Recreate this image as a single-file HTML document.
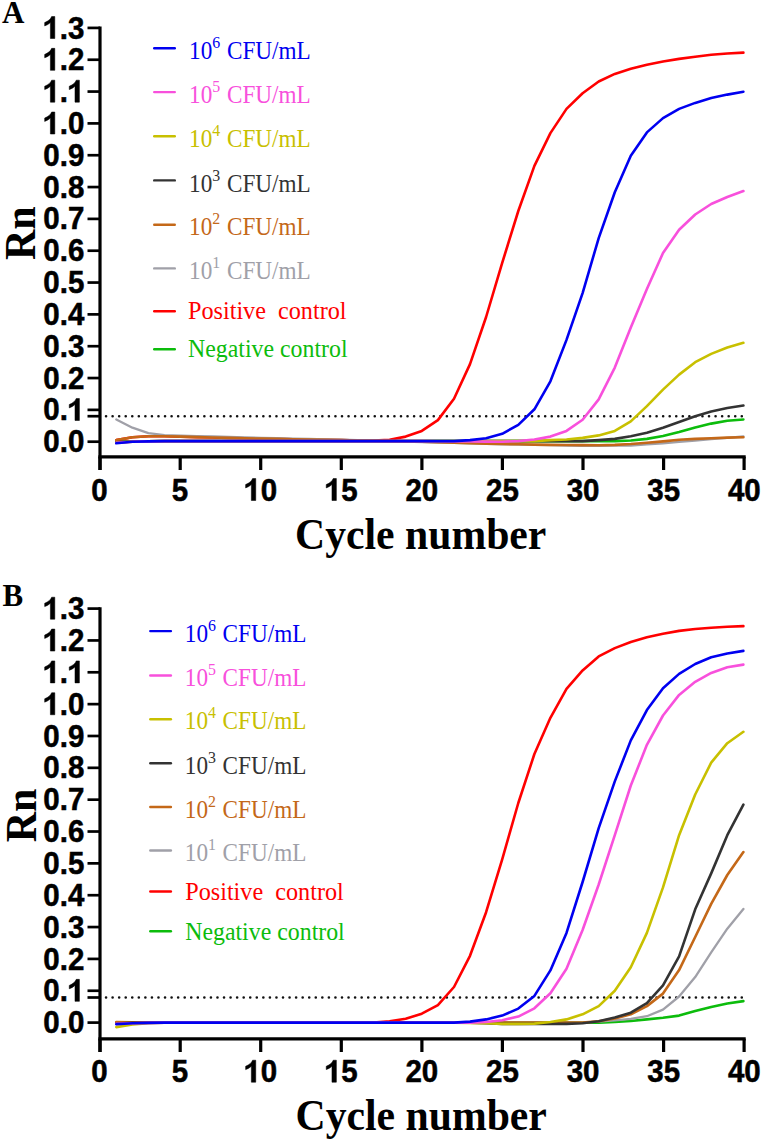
<!DOCTYPE html>
<html><head><meta charset="utf-8"><style>
html,body{margin:0;padding:0;background:#fff;width:762px;height:1141px;overflow:hidden}
svg{display:block}
.tk{font-family:"Liberation Sans",sans-serif;font-weight:bold;font-size:29.5px;fill:#000;stroke:#000;stroke-width:0.5px}
.ttl{font-family:"Liberation Serif",serif;font-weight:bold;font-size:41.7px;fill:#000}
.ttl2{font-family:"Liberation Serif",serif;font-weight:bold;font-size:42px;fill:#000}
.let{font-family:"Liberation Serif",serif;font-weight:bold;font-size:31px;fill:#000}
.lg{font-family:"Liberation Serif",serif;font-size:23.2px}
.lg2{font-family:"Liberation Serif",serif;font-size:24.2px}
.sup{font-size:15.9px}
</style></head><body>
<svg width="762" height="1141" viewBox="0 0 762 1141">
<line x1="87.5" y1="416.20" x2="100" y2="416.20" stroke="#000" stroke-width="2.7"/>
<line x1="106.05" y1="416.20" x2="742.5" y2="416.20" stroke="#111" stroke-width="2.6" stroke-linecap="round" stroke-dasharray="0.01 6.544"/>
<polyline points="116.3,442.1 132.4,441.4 148.4,441.3 164.5,441.1 180.6,441.1 196.7,441.1 212.8,441.1 228.8,441.1 244.9,441.1 261.0,441.1 277.1,441.1 293.2,441.1 309.2,441.1 325.3,441.1 341.4,441.1 357.5,441.1 373.6,441.1 389.6,441.1 405.7,441.1 421.8,441.1 437.9,441.1 454.0,441.1 470.0,441.1 486.1,441.1 502.2,441.1 518.3,441.1 534.4,441.1 550.4,441.1 566.5,441.1 582.6,441.1 598.7,441.1 614.8,441.1 630.8,440.5 646.9,438.9 663.0,436.0 679.1,431.9 695.2,427.4 711.2,423.6 727.3,420.7 743.4,419.5" fill="none" stroke="#0cbc0c" stroke-width="2.6" stroke-linejoin="round" stroke-linecap="round"/>
<polyline points="116.3,440.1 132.4,437.3 148.4,436.3 164.5,436.3 180.6,436.6 196.7,437.1 212.8,437.5 228.8,437.9 244.9,438.2 261.0,438.6 277.1,438.9 293.2,439.2 309.2,439.5 325.3,439.8 341.4,440.1 357.5,440.5 373.6,440.5 389.6,439.8 405.7,436.6 421.8,430.9 437.9,420.1 454.0,398.8 470.0,364.1 486.1,317.0 502.2,262.9 518.3,211.0 534.4,165.9 550.4,133.1 566.5,108.9 582.6,93.3 598.7,81.5 614.8,73.9 630.8,68.8 646.9,64.7 663.0,61.5 679.1,58.9 695.2,56.7 711.2,54.8 727.3,53.5 743.4,52.6" fill="none" stroke="#ff0000" stroke-width="2.6" stroke-linejoin="round" stroke-linecap="round"/>
<polyline points="116.3,419.5 132.4,427.7 148.4,433.1 164.5,435.1 180.6,435.7 196.7,436.1 212.8,436.5 228.8,437.0 244.9,437.4 261.0,437.8 277.1,438.2 293.2,438.6 309.2,439.0 325.3,439.3 341.4,439.7 357.5,440.1 373.6,440.6 389.6,441.1 405.7,441.6 421.8,442.1 437.9,442.5 454.0,442.9 470.0,443.4 486.1,443.8 502.2,444.3 518.3,444.6 534.4,444.9 550.4,445.2 566.5,445.6 582.6,445.9 598.7,445.8 614.8,445.7 630.8,445.6 646.9,444.4 663.0,443.3 679.1,441.9 695.2,440.5 711.2,439.2 727.3,437.9 743.4,436.3" fill="none" stroke="#a0a0a8" stroke-width="2.3" stroke-linejoin="round" stroke-linecap="round"/>
<polyline points="116.3,440.1 132.4,437.3 148.4,436.3 164.5,436.3 180.6,436.6 196.7,437.1 212.8,437.5 228.8,437.9 244.9,438.2 261.0,438.6 277.1,438.9 293.2,439.2 309.2,439.5 325.3,439.8 341.4,440.1 357.5,440.5 373.6,440.8 389.6,441.1 405.7,441.4 421.8,441.7 437.9,442.2 454.0,442.7 470.0,443.2 486.1,443.6 502.2,444.0 518.3,444.3 534.4,444.6 550.4,444.9 566.5,445.0 582.6,445.1 598.7,445.2 614.8,444.9 630.8,444.0 646.9,442.7 663.0,441.4 679.1,439.8 695.2,438.9 711.2,438.2 727.3,437.6 743.4,437.3" fill="none" stroke="#c46818" stroke-width="2.6" stroke-linejoin="round" stroke-linecap="round"/>
<polyline points="116.3,442.4 132.4,441.4 148.4,441.3 164.5,441.1 180.6,441.1 196.7,441.1 212.8,441.1 228.8,441.1 244.9,441.1 261.0,441.1 277.1,441.1 293.2,441.1 309.2,441.1 325.3,441.1 341.4,441.1 357.5,441.1 373.6,441.1 389.6,441.1 405.7,441.1 421.8,441.1 437.9,441.1 454.0,441.1 470.0,441.1 486.1,441.1 502.2,441.1 518.3,441.1 534.4,441.1 550.4,441.1 566.5,441.1 582.6,441.1 598.7,440.1 614.8,438.9 630.8,436.3 646.9,432.8 663.0,427.7 679.1,422.0 695.2,416.3 711.2,411.5 727.3,408.0 743.4,405.5" fill="none" stroke="#333333" stroke-width="2.6" stroke-linejoin="round" stroke-linecap="round"/>
<polyline points="116.3,442.7 132.4,441.7 148.4,441.4 164.5,441.1 180.6,441.1 196.7,441.1 212.8,441.1 228.8,441.1 244.9,441.1 261.0,441.1 277.1,441.1 293.2,441.1 309.2,441.1 325.3,441.1 341.4,441.1 357.5,441.1 373.6,441.1 389.6,441.1 405.7,441.1 421.8,441.1 437.9,441.1 454.0,441.1 470.0,441.1 486.1,441.1 502.2,441.1 518.3,441.1 534.4,441.1 550.4,440.1 566.5,439.5 582.6,437.9 598.7,435.4 614.8,430.9 630.8,421.4 646.9,406.1 663.0,389.6 679.1,374.6 695.2,362.2 711.2,353.9 727.3,347.5 743.4,342.8" fill="none" stroke="#c8c000" stroke-width="2.6" stroke-linejoin="round" stroke-linecap="round"/>
<polyline points="116.3,442.7 132.4,441.7 148.4,441.4 164.5,441.1 180.6,441.1 196.7,441.1 212.8,441.1 228.8,441.1 244.9,441.1 261.0,441.1 277.1,441.1 293.2,441.1 309.2,441.1 325.3,441.1 341.4,441.1 357.5,441.1 373.6,441.1 389.6,441.1 405.7,441.1 421.8,441.1 437.9,441.2 454.0,441.4 470.0,441.5 486.1,441.6 502.2,441.7 518.3,441.1 534.4,439.5 550.4,436.6 566.5,430.9 582.6,419.8 598.7,399.4 614.8,367.6 630.8,327.5 646.9,289.0 663.0,253.0 679.1,229.8 695.2,214.5 711.2,204.0 727.3,197.0 743.4,191.0" fill="none" stroke="#f850dc" stroke-width="2.6" stroke-linejoin="round" stroke-linecap="round"/>
<polyline points="116.3,443.3 132.4,441.7 148.4,441.4 164.5,441.1 180.6,441.1 196.7,441.1 212.8,441.1 228.8,441.1 244.9,441.1 261.0,441.1 277.1,441.1 293.2,441.1 309.2,441.1 325.3,441.1 341.4,441.1 357.5,441.1 373.6,441.1 389.6,441.1 405.7,441.1 421.8,441.1 437.9,441.1 454.0,441.1 470.0,440.1 486.1,438.2 502.2,433.8 518.3,424.9 534.4,409.3 550.4,381.3 566.5,339.9 582.6,293.1 598.7,238.1 614.8,192.3 630.8,155.7 646.9,132.4 663.0,118.1 679.1,108.9 695.2,102.9 711.2,98.1 727.3,94.6 743.4,91.7" fill="none" stroke="#0000f0" stroke-width="2.6" stroke-linejoin="round" stroke-linecap="round"/>
<line x1="100" y1="26.56" x2="100" y2="470.00" stroke="#000" stroke-width="3.2"/>
<line x1="98.4" y1="456.80" x2="745.7" y2="456.80" stroke="#000" stroke-width="3.2"/>
<line x1="87.5" y1="441.70" x2="100" y2="441.70" stroke="#000" stroke-width="2.7"/>
<g transform="translate(43.29,452.30) scale(1,1.08)"><text x="0.00" class="tk">0</text><text x="16.40" class="tk">.</text><text x="24.60" class="tk">0</text></g>
<line x1="87.5" y1="409.87" x2="100" y2="409.87" stroke="#000" stroke-width="2.7"/>
<g transform="translate(43.29,420.47) scale(1,1.08)"><text x="0.00" class="tk">0</text><text x="16.40" class="tk">.</text><path transform="translate(24.60,0) scale(29.5)" d="M0.241,0 L0.390,0 L0.390,-0.69 L0.283,-0.69 C0.255,-0.615 0.17,-0.545 0.047,-0.50 L0.047,-0.395 C0.125,-0.42 0.19,-0.455 0.241,-0.50 Z" fill="#000" stroke="#000" stroke-width="0.0169"/></g>
<line x1="87.5" y1="378.04" x2="100" y2="378.04" stroke="#000" stroke-width="2.7"/>
<g transform="translate(43.29,388.64) scale(1,1.08)"><text x="0.00" class="tk">0</text><text x="16.40" class="tk">.</text><text x="24.60" class="tk">2</text></g>
<line x1="87.5" y1="346.21" x2="100" y2="346.21" stroke="#000" stroke-width="2.7"/>
<g transform="translate(43.29,356.81) scale(1,1.08)"><text x="0.00" class="tk">0</text><text x="16.40" class="tk">.</text><text x="24.60" class="tk">3</text></g>
<line x1="87.5" y1="314.38" x2="100" y2="314.38" stroke="#000" stroke-width="2.7"/>
<g transform="translate(43.29,324.98) scale(1,1.08)"><text x="0.00" class="tk">0</text><text x="16.40" class="tk">.</text><text x="24.60" class="tk">4</text></g>
<line x1="87.5" y1="282.55" x2="100" y2="282.55" stroke="#000" stroke-width="2.7"/>
<g transform="translate(43.29,293.15) scale(1,1.08)"><text x="0.00" class="tk">0</text><text x="16.40" class="tk">.</text><text x="24.60" class="tk">5</text></g>
<line x1="87.5" y1="250.72" x2="100" y2="250.72" stroke="#000" stroke-width="2.7"/>
<g transform="translate(43.29,261.32) scale(1,1.08)"><text x="0.00" class="tk">0</text><text x="16.40" class="tk">.</text><text x="24.60" class="tk">6</text></g>
<line x1="87.5" y1="218.89" x2="100" y2="218.89" stroke="#000" stroke-width="2.7"/>
<g transform="translate(43.29,229.49) scale(1,1.08)"><text x="0.00" class="tk">0</text><text x="16.40" class="tk">.</text><text x="24.60" class="tk">7</text></g>
<line x1="87.5" y1="187.06" x2="100" y2="187.06" stroke="#000" stroke-width="2.7"/>
<g transform="translate(43.29,197.66) scale(1,1.08)"><text x="0.00" class="tk">0</text><text x="16.40" class="tk">.</text><text x="24.60" class="tk">8</text></g>
<line x1="87.5" y1="155.23" x2="100" y2="155.23" stroke="#000" stroke-width="2.7"/>
<g transform="translate(43.29,165.83) scale(1,1.08)"><text x="0.00" class="tk">0</text><text x="16.40" class="tk">.</text><text x="24.60" class="tk">9</text></g>
<line x1="87.5" y1="123.40" x2="100" y2="123.40" stroke="#000" stroke-width="2.7"/>
<g transform="translate(43.29,134.00) scale(1,1.08)"><path transform="translate(0.00,0) scale(29.5)" d="M0.241,0 L0.390,0 L0.390,-0.69 L0.283,-0.69 C0.255,-0.615 0.17,-0.545 0.047,-0.50 L0.047,-0.395 C0.125,-0.42 0.19,-0.455 0.241,-0.50 Z" fill="#000" stroke="#000" stroke-width="0.0169"/><text x="16.40" class="tk">.</text><text x="24.60" class="tk">0</text></g>
<line x1="87.5" y1="91.57" x2="100" y2="91.57" stroke="#000" stroke-width="2.7"/>
<g transform="translate(43.29,102.17) scale(1,1.08)"><path transform="translate(0.00,0) scale(29.5)" d="M0.241,0 L0.390,0 L0.390,-0.69 L0.283,-0.69 C0.255,-0.615 0.17,-0.545 0.047,-0.50 L0.047,-0.395 C0.125,-0.42 0.19,-0.455 0.241,-0.50 Z" fill="#000" stroke="#000" stroke-width="0.0169"/><text x="16.40" class="tk">.</text><path transform="translate(24.60,0) scale(29.5)" d="M0.241,0 L0.390,0 L0.390,-0.69 L0.283,-0.69 C0.255,-0.615 0.17,-0.545 0.047,-0.50 L0.047,-0.395 C0.125,-0.42 0.19,-0.455 0.241,-0.50 Z" fill="#000" stroke="#000" stroke-width="0.0169"/></g>
<line x1="87.5" y1="59.74" x2="100" y2="59.74" stroke="#000" stroke-width="2.7"/>
<g transform="translate(43.29,70.34) scale(1,1.08)"><path transform="translate(0.00,0) scale(29.5)" d="M0.241,0 L0.390,0 L0.390,-0.69 L0.283,-0.69 C0.255,-0.615 0.17,-0.545 0.047,-0.50 L0.047,-0.395 C0.125,-0.42 0.19,-0.455 0.241,-0.50 Z" fill="#000" stroke="#000" stroke-width="0.0169"/><text x="16.40" class="tk">.</text><text x="24.60" class="tk">2</text></g>
<line x1="87.5" y1="27.91" x2="100" y2="27.91" stroke="#000" stroke-width="2.7"/>
<g transform="translate(43.29,38.51) scale(1,1.08)"><path transform="translate(0.00,0) scale(29.5)" d="M0.241,0 L0.390,0 L0.390,-0.69 L0.283,-0.69 C0.255,-0.615 0.17,-0.545 0.047,-0.50 L0.047,-0.395 C0.125,-0.42 0.19,-0.455 0.241,-0.50 Z" fill="#000" stroke="#000" stroke-width="0.0169"/><text x="16.40" class="tk">.</text><text x="24.60" class="tk">3</text></g>
<line x1="100.0" y1="456.80" x2="100.0" y2="470.00" stroke="#000" stroke-width="3.2"/>
<g transform="translate(91.20,500.50) scale(1,1.08)"><text x="0.00" class="tk">0</text></g>
<line x1="180.2" y1="456.80" x2="180.2" y2="470.00" stroke="#000" stroke-width="3.2"/>
<g transform="translate(171.82,500.50) scale(1,1.08)"><text x="0.00" class="tk">5</text></g>
<line x1="260.7" y1="456.80" x2="260.7" y2="470.00" stroke="#000" stroke-width="3.2"/>
<g transform="translate(244.24,500.50) scale(1,1.08)"><path transform="translate(0.00,0) scale(29.5)" d="M0.241,0 L0.390,0 L0.390,-0.69 L0.283,-0.69 C0.255,-0.615 0.17,-0.545 0.047,-0.50 L0.047,-0.395 C0.125,-0.42 0.19,-0.455 0.241,-0.50 Z" fill="#000" stroke="#000" stroke-width="0.0169"/><text x="16.40" class="tk">0</text></g>
<line x1="341.3" y1="456.80" x2="341.3" y2="470.00" stroke="#000" stroke-width="3.2"/>
<g transform="translate(324.86,500.50) scale(1,1.08)"><path transform="translate(0.00,0) scale(29.5)" d="M0.241,0 L0.390,0 L0.390,-0.69 L0.283,-0.69 C0.255,-0.615 0.17,-0.545 0.047,-0.50 L0.047,-0.395 C0.125,-0.42 0.19,-0.455 0.241,-0.50 Z" fill="#000" stroke="#000" stroke-width="0.0169"/><text x="16.40" class="tk">5</text></g>
<line x1="421.9" y1="456.80" x2="421.9" y2="470.00" stroke="#000" stroke-width="3.2"/>
<g transform="translate(405.48,500.50) scale(1,1.08)"><text x="0.00" class="tk">2</text><text x="16.40" class="tk">0</text></g>
<line x1="502.4" y1="456.80" x2="502.4" y2="470.00" stroke="#000" stroke-width="3.2"/>
<g transform="translate(486.10,500.50) scale(1,1.08)"><text x="0.00" class="tk">2</text><text x="16.40" class="tk">5</text></g>
<line x1="583.0" y1="456.80" x2="583.0" y2="470.00" stroke="#000" stroke-width="3.2"/>
<g transform="translate(566.72,500.50) scale(1,1.08)"><text x="0.00" class="tk">3</text><text x="16.40" class="tk">0</text></g>
<line x1="663.6" y1="456.80" x2="663.6" y2="470.00" stroke="#000" stroke-width="3.2"/>
<g transform="translate(647.34,500.50) scale(1,1.08)"><text x="0.00" class="tk">3</text><text x="16.40" class="tk">5</text></g>
<line x1="744.1" y1="456.80" x2="744.1" y2="470.00" stroke="#000" stroke-width="3.2"/>
<g transform="translate(727.96,500.50) scale(1,1.08)"><text x="0.00" class="tk">4</text><text x="16.40" class="tk">0</text></g>
<g transform="translate(420.70,549.00) scale(1,1.08)"><text class="ttl" text-anchor="middle">Cycle number</text></g>
<g transform="translate(34.60,233.20) rotate(-90) scale(1,1.054)"><text class="ttl2" text-anchor="middle">Rn</text></g>
<g transform="translate(2.10,22.60) scale(1,1.03)"><text class="let">A</text></g>
<line x1="154.2" y1="48.20" x2="174.8" y2="48.20" stroke="#0000f0" stroke-width="2.4" stroke-linecap="round"/>
<g transform="translate(189.1,58.90) scale(1,1.105)"><text class="lg" fill="#0000f0">10<tspan class="sup" dy="-10.0">6</tspan><tspan dy="10.0" dx="0.9"> CFU/mL</tspan></text></g>
<line x1="154.2" y1="92.10" x2="174.8" y2="92.10" stroke="#f850dc" stroke-width="2.4" stroke-linecap="round"/>
<g transform="translate(189.1,102.60) scale(1,1.105)"><text class="lg" fill="#f850dc">10<tspan class="sup" dy="-10.0">5</tspan><tspan dy="10.0" dx="0.9"> CFU/mL</tspan></text></g>
<line x1="154.2" y1="136.20" x2="174.8" y2="136.20" stroke="#c8c000" stroke-width="2.4" stroke-linecap="round"/>
<g transform="translate(189.1,146.90) scale(1,1.105)"><text class="lg" fill="#c8c000">10<tspan class="sup" dy="-10.0">4</tspan><tspan dy="10.0" dx="0.9"> CFU/mL</tspan></text></g>
<line x1="154.2" y1="180.40" x2="174.8" y2="180.40" stroke="#333333" stroke-width="2.4" stroke-linecap="round"/>
<g transform="translate(189.1,191.90) scale(1,1.105)"><text class="lg" fill="#333333">10<tspan class="sup" dy="-10.0">3</tspan><tspan dy="10.0" dx="0.9"> CFU/mL</tspan></text></g>
<line x1="154.2" y1="224.70" x2="174.8" y2="224.70" stroke="#c46818" stroke-width="2.4" stroke-linecap="round"/>
<g transform="translate(189.1,235.10) scale(1,1.105)"><text class="lg" fill="#c46818">10<tspan class="sup" dy="-10.0">2</tspan><tspan dy="10.0" dx="0.9"> CFU/mL</tspan></text></g>
<line x1="154.2" y1="268.40" x2="174.8" y2="268.40" stroke="#a0a0a8" stroke-width="2.4" stroke-linecap="round"/>
<g transform="translate(189.1,278.90) scale(1,1.105)"><text class="lg" fill="#a0a0a8">10<tspan class="sup" dy="-10.0">1</tspan><tspan dy="10.0" dx="0.9"> CFU/mL</tspan></text></g>
<line x1="154.2" y1="311.20" x2="174.8" y2="311.20" stroke="#ff0000" stroke-width="2.4" stroke-linecap="round"/>
<g transform="translate(188.0,318.90) scale(1,1.06)"><text class="lg2" fill="#ff0000" xml:space="preserve">Positive  control</text></g>
<line x1="154.2" y1="349.30" x2="174.8" y2="349.30" stroke="#0cbc0c" stroke-width="2.4" stroke-linecap="round"/>
<g transform="translate(188.0,356.90) scale(1,1.075)"><text class="lg2" style="font-size:23.85px" fill="#0cbc0c">Negative control</text></g>
<line x1="87.5" y1="997.50" x2="100" y2="997.50" stroke="#000" stroke-width="2.7"/>
<line x1="106.05" y1="997.50" x2="742.5" y2="997.50" stroke="#111" stroke-width="2.6" stroke-linecap="round" stroke-dasharray="0.01 6.544"/>
<polyline points="116.3,1023.6 132.4,1022.9 148.4,1022.8 164.5,1022.6 180.6,1022.6 196.7,1022.6 212.8,1022.6 228.8,1022.6 244.9,1022.6 261.0,1022.6 277.1,1022.6 293.2,1022.6 309.2,1022.6 325.3,1022.6 341.4,1022.6 357.5,1022.6 373.6,1022.6 389.6,1022.6 405.7,1022.6 421.8,1022.6 437.9,1022.6 454.0,1022.6 470.0,1022.6 486.1,1022.6 502.2,1022.6 518.3,1022.6 534.4,1022.6 550.4,1022.6 566.5,1022.6 582.6,1022.6 598.7,1022.6 614.8,1022.0 630.8,1021.0 646.9,1019.4 663.0,1017.8 679.1,1015.6 695.2,1011.1 711.2,1007.0 727.3,1003.5 743.4,1001.1" fill="none" stroke="#0cbc0c" stroke-width="2.6" stroke-linejoin="round" stroke-linecap="round"/>
<polyline points="116.3,1022.6 132.4,1022.6 148.4,1022.6 164.5,1022.6 180.6,1022.6 196.7,1022.6 212.8,1022.6 228.8,1022.6 244.9,1022.6 261.0,1022.6 277.1,1022.6 293.2,1022.6 309.2,1022.6 325.3,1022.6 341.4,1022.6 357.5,1022.6 373.6,1022.6 389.6,1021.3 405.7,1018.8 421.8,1013.7 437.9,1005.1 454.0,987.0 470.0,955.8 486.1,912.2 502.2,859.4 518.3,803.0 534.4,754.0 550.4,717.8 566.5,688.8 582.6,670.4 598.7,656.4 614.8,648.1 630.8,642.0 646.9,637.3 663.0,633.8 679.1,630.9 695.2,629.0 711.2,627.7 727.3,626.8 743.4,626.1" fill="none" stroke="#ff0000" stroke-width="2.6" stroke-linejoin="round" stroke-linecap="round"/>
<polyline points="116.3,1023.6 132.4,1022.9 148.4,1022.8 164.5,1022.6 180.6,1022.6 196.7,1022.6 212.8,1022.6 228.8,1022.6 244.9,1022.6 261.0,1022.6 277.1,1022.6 293.2,1022.6 309.2,1022.6 325.3,1022.6 341.4,1022.6 357.5,1022.6 373.6,1022.6 389.6,1022.6 405.7,1022.6 421.8,1022.6 437.9,1022.6 454.0,1022.6 470.0,1022.6 486.1,1022.6 502.2,1022.6 518.3,1022.6 534.4,1022.6 550.4,1022.6 566.5,1022.6 582.6,1022.6 598.7,1021.6 614.8,1020.4 630.8,1018.8 646.9,1016.2 663.0,1009.6 679.1,996.5 695.2,977.1 711.2,952.3 727.3,928.7 743.4,909.0" fill="none" stroke="#a0a0a8" stroke-width="2.3" stroke-linejoin="round" stroke-linecap="round"/>
<polyline points="116.3,1022.0 132.4,1022.3 148.4,1022.4 164.5,1022.6 180.6,1022.6 196.7,1022.6 212.8,1022.6 228.8,1022.6 244.9,1022.6 261.0,1022.6 277.1,1022.6 293.2,1022.6 309.2,1022.6 325.3,1022.6 341.4,1022.6 357.5,1022.6 373.6,1022.6 389.6,1022.6 405.7,1022.6 421.8,1022.6 437.9,1022.6 454.0,1022.6 470.0,1022.6 486.1,1022.6 502.2,1022.6 518.3,1022.6 534.4,1022.6 550.4,1022.6 566.5,1022.6 582.6,1022.6 598.7,1021.3 614.8,1018.5 630.8,1014.3 646.9,1006.1 663.0,993.6 679.1,970.1 695.2,937.0 711.2,903.9 727.3,875.0 743.4,852.0" fill="none" stroke="#c46818" stroke-width="2.6" stroke-linejoin="round" stroke-linecap="round"/>
<polyline points="116.3,1023.6 132.4,1022.9 148.4,1022.8 164.5,1022.6 180.6,1022.6 196.7,1022.6 212.8,1022.6 228.8,1022.6 244.9,1022.6 261.0,1022.6 277.1,1022.6 293.2,1022.6 309.2,1022.6 325.3,1022.6 341.4,1022.6 357.5,1022.6 373.6,1022.6 389.6,1022.6 405.7,1022.6 421.8,1022.6 437.9,1022.6 454.0,1022.6 470.0,1022.6 486.1,1023.2 502.2,1023.9 518.3,1023.9 534.4,1023.9 550.4,1023.9 566.5,1023.9 582.6,1023.2 598.7,1021.3 614.8,1017.5 630.8,1012.7 646.9,1003.2 663.0,985.4 679.1,956.4 695.2,909.3 711.2,873.4 727.3,835.2 743.4,804.6" fill="none" stroke="#333333" stroke-width="2.6" stroke-linejoin="round" stroke-linecap="round"/>
<polyline points="116.3,1027.1 132.4,1024.5 148.4,1023.2 164.5,1022.6 180.6,1022.6 196.7,1022.6 212.8,1022.6 228.8,1022.6 244.9,1022.6 261.0,1022.6 277.1,1022.6 293.2,1022.6 309.2,1022.6 325.3,1022.6 341.4,1022.6 357.5,1022.6 373.6,1022.6 389.6,1022.6 405.7,1022.6 421.8,1022.6 437.9,1022.6 454.0,1022.6 470.0,1022.9 486.1,1023.2 502.2,1023.9 518.3,1023.9 534.4,1023.6 550.4,1022.0 566.5,1019.4 582.6,1014.3 598.7,1006.1 614.8,990.8 630.8,967.2 646.9,932.9 663.0,887.4 679.1,835.2 695.2,794.5 711.2,762.6 727.3,743.2 743.4,731.8" fill="none" stroke="#c8c000" stroke-width="2.6" stroke-linejoin="round" stroke-linecap="round"/>
<polyline points="116.3,1023.9 132.4,1023.2 148.4,1022.9 164.5,1022.6 180.6,1022.6 196.7,1022.6 212.8,1022.6 228.8,1022.6 244.9,1022.6 261.0,1022.6 277.1,1022.6 293.2,1022.6 309.2,1022.6 325.3,1022.6 341.4,1022.6 357.5,1022.6 373.6,1022.6 389.6,1022.6 405.7,1022.6 421.8,1022.6 437.9,1022.6 454.0,1022.6 470.0,1022.6 486.1,1022.0 502.2,1020.2 518.3,1016.6 534.4,1008.3 550.4,993.3 566.5,968.8 582.6,930.0 598.7,884.5 614.8,835.2 630.8,785.5 646.9,744.8 663.0,715.5 679.1,694.9 695.2,681.8 711.2,672.9 727.3,667.2 743.4,664.6" fill="none" stroke="#f850dc" stroke-width="2.6" stroke-linejoin="round" stroke-linecap="round"/>
<polyline points="116.3,1024.2 132.4,1023.2 148.4,1022.9 164.5,1022.6 180.6,1022.6 196.7,1022.6 212.8,1022.6 228.8,1022.6 244.9,1022.6 261.0,1022.6 277.1,1022.6 293.2,1022.6 309.2,1022.6 325.3,1022.6 341.4,1022.6 357.5,1022.6 373.6,1022.6 389.6,1022.6 405.7,1022.6 421.8,1022.6 437.9,1022.6 454.0,1022.6 470.0,1021.6 486.1,1019.4 502.2,1015.6 518.3,1008.6 534.4,995.9 550.4,970.4 566.5,932.9 582.6,882.0 598.7,828.2 614.8,781.4 630.8,740.4 646.9,710.1 663.0,688.2 679.1,673.9 695.2,664.0 711.2,657.3 727.3,653.5 743.4,650.9" fill="none" stroke="#0000f0" stroke-width="2.6" stroke-linejoin="round" stroke-linecap="round"/>
<line x1="100" y1="607.25" x2="100" y2="1052.00" stroke="#000" stroke-width="3.2"/>
<line x1="98.4" y1="1038.80" x2="745.7" y2="1038.80" stroke="#000" stroke-width="3.2"/>
<line x1="87.5" y1="1022.60" x2="100" y2="1022.60" stroke="#000" stroke-width="2.7"/>
<g transform="translate(43.29,1033.20) scale(1,1.08)"><text x="0.00" class="tk">0</text><text x="16.40" class="tk">.</text><text x="24.60" class="tk">0</text></g>
<line x1="87.5" y1="990.75" x2="100" y2="990.75" stroke="#000" stroke-width="2.7"/>
<g transform="translate(43.29,1001.35) scale(1,1.08)"><text x="0.00" class="tk">0</text><text x="16.40" class="tk">.</text><path transform="translate(24.60,0) scale(29.5)" d="M0.241,0 L0.390,0 L0.390,-0.69 L0.283,-0.69 C0.255,-0.615 0.17,-0.545 0.047,-0.50 L0.047,-0.395 C0.125,-0.42 0.19,-0.455 0.241,-0.50 Z" fill="#000" stroke="#000" stroke-width="0.0169"/></g>
<line x1="87.5" y1="958.91" x2="100" y2="958.91" stroke="#000" stroke-width="2.7"/>
<g transform="translate(43.29,969.51) scale(1,1.08)"><text x="0.00" class="tk">0</text><text x="16.40" class="tk">.</text><text x="24.60" class="tk">2</text></g>
<line x1="87.5" y1="927.06" x2="100" y2="927.06" stroke="#000" stroke-width="2.7"/>
<g transform="translate(43.29,937.66) scale(1,1.08)"><text x="0.00" class="tk">0</text><text x="16.40" class="tk">.</text><text x="24.60" class="tk">3</text></g>
<line x1="87.5" y1="895.22" x2="100" y2="895.22" stroke="#000" stroke-width="2.7"/>
<g transform="translate(43.29,905.82) scale(1,1.08)"><text x="0.00" class="tk">0</text><text x="16.40" class="tk">.</text><text x="24.60" class="tk">4</text></g>
<line x1="87.5" y1="863.37" x2="100" y2="863.37" stroke="#000" stroke-width="2.7"/>
<g transform="translate(43.29,873.97) scale(1,1.08)"><text x="0.00" class="tk">0</text><text x="16.40" class="tk">.</text><text x="24.60" class="tk">5</text></g>
<line x1="87.5" y1="831.52" x2="100" y2="831.52" stroke="#000" stroke-width="2.7"/>
<g transform="translate(43.29,842.12) scale(1,1.08)"><text x="0.00" class="tk">0</text><text x="16.40" class="tk">.</text><text x="24.60" class="tk">6</text></g>
<line x1="87.5" y1="799.68" x2="100" y2="799.68" stroke="#000" stroke-width="2.7"/>
<g transform="translate(43.29,810.28) scale(1,1.08)"><text x="0.00" class="tk">0</text><text x="16.40" class="tk">.</text><text x="24.60" class="tk">7</text></g>
<line x1="87.5" y1="767.83" x2="100" y2="767.83" stroke="#000" stroke-width="2.7"/>
<g transform="translate(43.29,778.43) scale(1,1.08)"><text x="0.00" class="tk">0</text><text x="16.40" class="tk">.</text><text x="24.60" class="tk">8</text></g>
<line x1="87.5" y1="735.99" x2="100" y2="735.99" stroke="#000" stroke-width="2.7"/>
<g transform="translate(43.29,746.59) scale(1,1.08)"><text x="0.00" class="tk">0</text><text x="16.40" class="tk">.</text><text x="24.60" class="tk">9</text></g>
<line x1="87.5" y1="704.14" x2="100" y2="704.14" stroke="#000" stroke-width="2.7"/>
<g transform="translate(43.29,714.74) scale(1,1.08)"><path transform="translate(0.00,0) scale(29.5)" d="M0.241,0 L0.390,0 L0.390,-0.69 L0.283,-0.69 C0.255,-0.615 0.17,-0.545 0.047,-0.50 L0.047,-0.395 C0.125,-0.42 0.19,-0.455 0.241,-0.50 Z" fill="#000" stroke="#000" stroke-width="0.0169"/><text x="16.40" class="tk">.</text><text x="24.60" class="tk">0</text></g>
<line x1="87.5" y1="672.29" x2="100" y2="672.29" stroke="#000" stroke-width="2.7"/>
<g transform="translate(43.29,682.89) scale(1,1.08)"><path transform="translate(0.00,0) scale(29.5)" d="M0.241,0 L0.390,0 L0.390,-0.69 L0.283,-0.69 C0.255,-0.615 0.17,-0.545 0.047,-0.50 L0.047,-0.395 C0.125,-0.42 0.19,-0.455 0.241,-0.50 Z" fill="#000" stroke="#000" stroke-width="0.0169"/><text x="16.40" class="tk">.</text><path transform="translate(24.60,0) scale(29.5)" d="M0.241,0 L0.390,0 L0.390,-0.69 L0.283,-0.69 C0.255,-0.615 0.17,-0.545 0.047,-0.50 L0.047,-0.395 C0.125,-0.42 0.19,-0.455 0.241,-0.50 Z" fill="#000" stroke="#000" stroke-width="0.0169"/></g>
<line x1="87.5" y1="640.45" x2="100" y2="640.45" stroke="#000" stroke-width="2.7"/>
<g transform="translate(43.29,651.05) scale(1,1.08)"><path transform="translate(0.00,0) scale(29.5)" d="M0.241,0 L0.390,0 L0.390,-0.69 L0.283,-0.69 C0.255,-0.615 0.17,-0.545 0.047,-0.50 L0.047,-0.395 C0.125,-0.42 0.19,-0.455 0.241,-0.50 Z" fill="#000" stroke="#000" stroke-width="0.0169"/><text x="16.40" class="tk">.</text><text x="24.60" class="tk">2</text></g>
<line x1="87.5" y1="608.60" x2="100" y2="608.60" stroke="#000" stroke-width="2.7"/>
<g transform="translate(43.29,619.20) scale(1,1.08)"><path transform="translate(0.00,0) scale(29.5)" d="M0.241,0 L0.390,0 L0.390,-0.69 L0.283,-0.69 C0.255,-0.615 0.17,-0.545 0.047,-0.50 L0.047,-0.395 C0.125,-0.42 0.19,-0.455 0.241,-0.50 Z" fill="#000" stroke="#000" stroke-width="0.0169"/><text x="16.40" class="tk">.</text><text x="24.60" class="tk">3</text></g>
<line x1="100.0" y1="1038.80" x2="100.0" y2="1052.00" stroke="#000" stroke-width="3.2"/>
<g transform="translate(91.20,1082.20) scale(1,1.08)"><text x="0.00" class="tk">0</text></g>
<line x1="180.2" y1="1038.80" x2="180.2" y2="1052.00" stroke="#000" stroke-width="3.2"/>
<g transform="translate(171.82,1082.20) scale(1,1.08)"><text x="0.00" class="tk">5</text></g>
<line x1="260.7" y1="1038.80" x2="260.7" y2="1052.00" stroke="#000" stroke-width="3.2"/>
<g transform="translate(244.24,1082.20) scale(1,1.08)"><path transform="translate(0.00,0) scale(29.5)" d="M0.241,0 L0.390,0 L0.390,-0.69 L0.283,-0.69 C0.255,-0.615 0.17,-0.545 0.047,-0.50 L0.047,-0.395 C0.125,-0.42 0.19,-0.455 0.241,-0.50 Z" fill="#000" stroke="#000" stroke-width="0.0169"/><text x="16.40" class="tk">0</text></g>
<line x1="341.3" y1="1038.80" x2="341.3" y2="1052.00" stroke="#000" stroke-width="3.2"/>
<g transform="translate(324.86,1082.20) scale(1,1.08)"><path transform="translate(0.00,0) scale(29.5)" d="M0.241,0 L0.390,0 L0.390,-0.69 L0.283,-0.69 C0.255,-0.615 0.17,-0.545 0.047,-0.50 L0.047,-0.395 C0.125,-0.42 0.19,-0.455 0.241,-0.50 Z" fill="#000" stroke="#000" stroke-width="0.0169"/><text x="16.40" class="tk">5</text></g>
<line x1="421.9" y1="1038.80" x2="421.9" y2="1052.00" stroke="#000" stroke-width="3.2"/>
<g transform="translate(405.48,1082.20) scale(1,1.08)"><text x="0.00" class="tk">2</text><text x="16.40" class="tk">0</text></g>
<line x1="502.4" y1="1038.80" x2="502.4" y2="1052.00" stroke="#000" stroke-width="3.2"/>
<g transform="translate(486.10,1082.20) scale(1,1.08)"><text x="0.00" class="tk">2</text><text x="16.40" class="tk">5</text></g>
<line x1="583.0" y1="1038.80" x2="583.0" y2="1052.00" stroke="#000" stroke-width="3.2"/>
<g transform="translate(566.72,1082.20) scale(1,1.08)"><text x="0.00" class="tk">3</text><text x="16.40" class="tk">0</text></g>
<line x1="663.6" y1="1038.80" x2="663.6" y2="1052.00" stroke="#000" stroke-width="3.2"/>
<g transform="translate(647.34,1082.20) scale(1,1.08)"><text x="0.00" class="tk">3</text><text x="16.40" class="tk">5</text></g>
<line x1="744.1" y1="1038.80" x2="744.1" y2="1052.00" stroke="#000" stroke-width="3.2"/>
<g transform="translate(727.96,1082.20) scale(1,1.08)"><text x="0.00" class="tk">4</text><text x="16.40" class="tk">0</text></g>
<g transform="translate(421.20,1129.80) scale(1,1.06)"><text class="ttl" text-anchor="middle">Cycle number</text></g>
<g transform="translate(35.60,815.50) rotate(-90) scale(1,1.054)"><text class="ttl2" text-anchor="middle">Rn</text></g>
<g transform="translate(2.50,605.80) scale(1,1.03)"><text class="let">B</text></g>
<line x1="150.3" y1="631.10" x2="170.9" y2="631.10" stroke="#0000f0" stroke-width="2.4" stroke-linecap="round"/>
<g transform="translate(184.8,641.80) scale(1,1.105)"><text class="lg" fill="#0000f0">10<tspan class="sup" dy="-10.0">6</tspan><tspan dy="10.0" dx="0.9"> CFU/mL</tspan></text></g>
<line x1="150.3" y1="675.50" x2="170.9" y2="675.50" stroke="#f850dc" stroke-width="2.4" stroke-linecap="round"/>
<g transform="translate(184.8,685.60) scale(1,1.105)"><text class="lg" fill="#f850dc">10<tspan class="sup" dy="-10.0">5</tspan><tspan dy="10.0" dx="0.9"> CFU/mL</tspan></text></g>
<line x1="150.3" y1="719.30" x2="170.9" y2="719.30" stroke="#c8c000" stroke-width="2.4" stroke-linecap="round"/>
<g transform="translate(184.8,729.40) scale(1,1.105)"><text class="lg" fill="#c8c000">10<tspan class="sup" dy="-10.0">4</tspan><tspan dy="10.0" dx="0.9"> CFU/mL</tspan></text></g>
<line x1="150.3" y1="763.30" x2="170.9" y2="763.30" stroke="#333333" stroke-width="2.4" stroke-linecap="round"/>
<g transform="translate(184.8,773.60) scale(1,1.105)"><text class="lg" fill="#333333">10<tspan class="sup" dy="-10.0">3</tspan><tspan dy="10.0" dx="0.9"> CFU/mL</tspan></text></g>
<line x1="150.3" y1="807.00" x2="170.9" y2="807.00" stroke="#c46818" stroke-width="2.4" stroke-linecap="round"/>
<g transform="translate(184.8,818.00) scale(1,1.105)"><text class="lg" fill="#c46818">10<tspan class="sup" dy="-10.0">2</tspan><tspan dy="10.0" dx="0.9"> CFU/mL</tspan></text></g>
<line x1="150.3" y1="850.50" x2="170.9" y2="850.50" stroke="#a0a0a8" stroke-width="2.4" stroke-linecap="round"/>
<g transform="translate(184.8,861.20) scale(1,1.105)"><text class="lg" fill="#a0a0a8">10<tspan class="sup" dy="-10.0">1</tspan><tspan dy="10.0" dx="0.9"> CFU/mL</tspan></text></g>
<line x1="150.3" y1="891.50" x2="170.9" y2="891.50" stroke="#ff0000" stroke-width="2.4" stroke-linecap="round"/>
<g transform="translate(185.2,900.20) scale(1,1.06)"><text class="lg2" fill="#ff0000" xml:space="preserve">Positive  control</text></g>
<line x1="150.3" y1="931.30" x2="170.9" y2="931.30" stroke="#0cbc0c" stroke-width="2.4" stroke-linecap="round"/>
<g transform="translate(185.2,939.50) scale(1,1.075)"><text class="lg2" style="font-size:23.85px" fill="#0cbc0c">Negative control</text></g>
</svg>
</body></html>
